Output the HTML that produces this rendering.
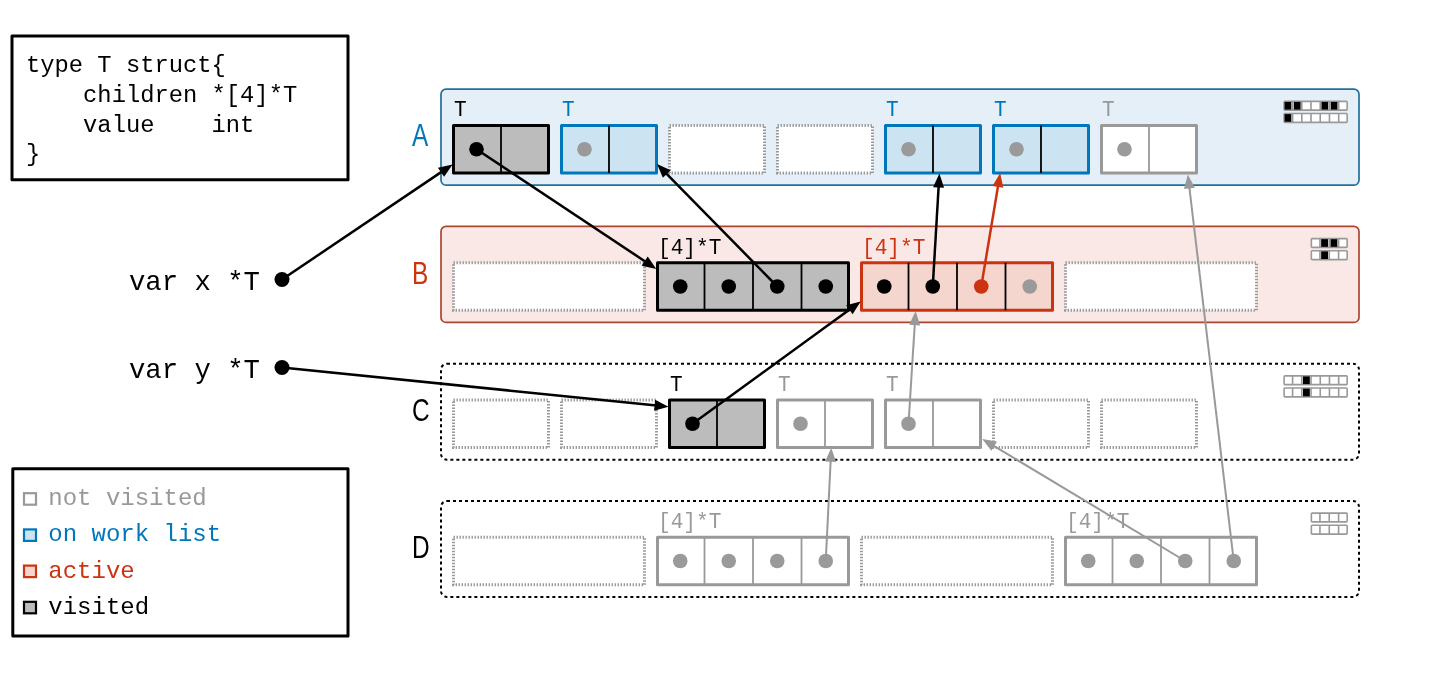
<!DOCTYPE html><html><head><meta charset="utf-8"><style>html,body{margin:0;padding:0;background:#fff;width:1440px;height:675px;overflow:hidden}svg{display:block;will-change:transform}</style></head><body><svg width="1440" height="675" viewBox="0 0 1440 675"><rect width="1440" height="675" fill="#ffffff"/><rect x="12" y="36" width="336" height="143.8" fill="#fff" stroke="#000" stroke-width="3" stroke-linejoin="round"/><text transform="translate(26 71.9) scale(0.9662 1)" x="0" y="0" font-family='"Liberation Mono", monospace' font-size="24.63" fill="#000" xml:space="preserve">type T struct{</text><text transform="translate(26 101.7) scale(0.9662 1)" x="0" y="0" font-family='"Liberation Mono", monospace' font-size="24.63" fill="#000" xml:space="preserve">    children *[4]*T</text><text transform="translate(26 131.5) scale(0.9662 1)" x="0" y="0" font-family='"Liberation Mono", monospace' font-size="24.63" fill="#000" xml:space="preserve">    value    int</text><text transform="translate(26 161.3) scale(0.9662 1)" x="0" y="0" font-family='"Liberation Mono", monospace' font-size="24.63" fill="#000" xml:space="preserve">}</text><rect x="12.8" y="468.7" width="335.2" height="167.2" fill="#fff" stroke="#000" stroke-width="3" stroke-linejoin="round"/><rect x="24" y="493.2" width="12" height="11.5" fill="#fff" stroke="#999999" stroke-width="2.2"/><text x="48.3" y="505.2" font-family='"Liberation Mono", monospace' font-size="24" fill="#999999">not visited</text><rect x="24" y="529.4" width="12" height="11.5" fill="#cce4f1" stroke="#0077bb" stroke-width="2.2"/><text x="48.3" y="541.4" font-family='"Liberation Mono", monospace' font-size="24" fill="#0077bb">on work list</text><rect x="24" y="565.6" width="12" height="11.5" fill="#f5d6cf" stroke="#cc3311" stroke-width="2.2"/><text x="48.3" y="577.6" font-family='"Liberation Mono", monospace' font-size="24" fill="#cc3311">active</text><rect x="24" y="601.8" width="12" height="11.5" fill="#bcbcbc" stroke="#000" stroke-width="2.2"/><text x="48.3" y="613.8" font-family='"Liberation Mono", monospace' font-size="24" fill="#000">visited</text><text transform="translate(129 290) scale(0.9569 1)" x="0" y="0" font-family='"Liberation Mono", monospace' font-size="28.53" fill="#000" xml:space="preserve">var x *T</text><text transform="translate(129 377.5) scale(0.9569 1)" x="0" y="0" font-family='"Liberation Mono", monospace' font-size="28.53" fill="#000" xml:space="preserve">var y *T</text><rect x="441" y="89.2" width="918" height="96" rx="5" fill="#e4eff8" stroke="#236f9c" stroke-width="1.7"/><rect x="441" y="226.45" width="918" height="96" rx="5" fill="#f9e8e5" stroke="#ad4630" stroke-width="1.7"/><rect x="441" y="363.7" width="918" height="96" rx="6" fill="#fff" stroke="#000" stroke-width="2" stroke-dasharray="3 3"/><rect x="441" y="500.95" width="918" height="96" rx="6" fill="#fff" stroke="#000" stroke-width="2" stroke-dasharray="3 3"/><text x="0" y="0" transform="translate(412 146.4) scale(0.8 1)" font-family='"Liberation Sans", sans-serif' font-size="30.5" fill="#0077bb">A</text><text x="0" y="0" transform="translate(412 283.65) scale(0.8 1)" font-family='"Liberation Sans", sans-serif' font-size="30.5" fill="#cc3311">B</text><text x="0" y="0" transform="translate(412 420.9) scale(0.8 1)" font-family='"Liberation Sans", sans-serif' font-size="30.5" fill="#000">C</text><text x="0" y="0" transform="translate(412 558.15) scale(0.8 1)" font-family='"Liberation Sans", sans-serif' font-size="30.5" fill="#000">D</text><rect x="453.5" y="125.5" width="95" height="47.5" fill="#bcbcbc" stroke="#000" stroke-width="3" stroke-linejoin="round"/><line x1="501.0" y1="125.5" x2="501.0" y2="173.0" stroke="#000" stroke-width="1.8"/><rect x="561.5" y="125.5" width="95" height="47.5" fill="#cce4f1" stroke="#0077bb" stroke-width="3" stroke-linejoin="round"/><line x1="609.0" y1="125.5" x2="609.0" y2="173.0" stroke="#000" stroke-width="1.8"/><rect x="669.5" y="125.5" width="95" height="47.5" fill="#ffffff" stroke="#9a9a9a" stroke-width="3" stroke-dasharray="1.4 1.6"/><rect x="777.5" y="125.5" width="95" height="47.5" fill="#ffffff" stroke="#9a9a9a" stroke-width="3" stroke-dasharray="1.4 1.6"/><rect x="885.5" y="125.5" width="95" height="47.5" fill="#cce4f1" stroke="#0077bb" stroke-width="3" stroke-linejoin="round"/><line x1="933.0" y1="125.5" x2="933.0" y2="173.0" stroke="#000" stroke-width="1.8"/><rect x="993.5" y="125.5" width="95" height="47.5" fill="#cce4f1" stroke="#0077bb" stroke-width="3" stroke-linejoin="round"/><line x1="1041.0" y1="125.5" x2="1041.0" y2="173.0" stroke="#000" stroke-width="1.8"/><rect x="1101.5" y="125.5" width="95" height="47.5" fill="#fff" stroke="#999999" stroke-width="3" stroke-linejoin="round"/><line x1="1149.0" y1="125.5" x2="1149.0" y2="173.0" stroke="#999999" stroke-width="1.8"/><text transform="translate(454 116.4) scale(0.9434 1)" x="0" y="0" font-family='"Liberation Mono", monospace' font-size="22.37" fill="#000" xml:space="preserve">T</text><text transform="translate(562 116.4) scale(0.9434 1)" x="0" y="0" font-family='"Liberation Mono", monospace' font-size="22.37" fill="#0077bb" xml:space="preserve">T</text><text transform="translate(886 116.4) scale(0.9434 1)" x="0" y="0" font-family='"Liberation Mono", monospace' font-size="22.37" fill="#0077bb" xml:space="preserve">T</text><text transform="translate(994 116.4) scale(0.9434 1)" x="0" y="0" font-family='"Liberation Mono", monospace' font-size="22.37" fill="#0077bb" xml:space="preserve">T</text><text transform="translate(1102 116.4) scale(0.9434 1)" x="0" y="0" font-family='"Liberation Mono", monospace' font-size="22.37" fill="#999999" xml:space="preserve">T</text><rect x="1284.1100000000001" y="101.35000000000001" width="63.040000000000006" height="8.8" fill="#ffffff" stroke="#999" stroke-width="1.6" rx="0.8"/><rect x="1284.5600000000002" y="101.9" width="6.82" height="7.700000000000001" fill="#000"/><rect x="1293.7800000000002" y="101.9" width="6.82" height="7.700000000000001" fill="#000"/><rect x="1321.4400000000003" y="101.9" width="6.82" height="7.700000000000001" fill="#000"/><rect x="1330.66" y="101.9" width="6.82" height="7.700000000000001" fill="#000"/><line x1="1292.5800000000002" y1="101.35000000000001" x2="1292.5800000000002" y2="110.15" stroke="#999" stroke-width="1.6"/><line x1="1301.8000000000002" y1="101.35000000000001" x2="1301.8000000000002" y2="110.15" stroke="#999" stroke-width="1.6"/><line x1="1311.0200000000002" y1="101.35000000000001" x2="1311.0200000000002" y2="110.15" stroke="#999" stroke-width="1.6"/><line x1="1320.2400000000002" y1="101.35000000000001" x2="1320.2400000000002" y2="110.15" stroke="#999" stroke-width="1.6"/><line x1="1329.46" y1="101.35000000000001" x2="1329.46" y2="110.15" stroke="#999" stroke-width="1.6"/><line x1="1338.68" y1="101.35000000000001" x2="1338.68" y2="110.15" stroke="#999" stroke-width="1.6"/><rect x="1284.1100000000001" y="113.55000000000001" width="63.040000000000006" height="8.8" fill="#ffffff" stroke="#999" stroke-width="1.6" rx="0.8"/><rect x="1284.5600000000002" y="114.10000000000001" width="6.82" height="7.700000000000001" fill="#000"/><line x1="1292.5800000000002" y1="113.55000000000001" x2="1292.5800000000002" y2="122.35000000000001" stroke="#999" stroke-width="1.6"/><line x1="1301.8000000000002" y1="113.55000000000001" x2="1301.8000000000002" y2="122.35000000000001" stroke="#999" stroke-width="1.6"/><line x1="1311.0200000000002" y1="113.55000000000001" x2="1311.0200000000002" y2="122.35000000000001" stroke="#999" stroke-width="1.6"/><line x1="1320.2400000000002" y1="113.55000000000001" x2="1320.2400000000002" y2="122.35000000000001" stroke="#999" stroke-width="1.6"/><line x1="1329.46" y1="113.55000000000001" x2="1329.46" y2="122.35000000000001" stroke="#999" stroke-width="1.6"/><line x1="1338.68" y1="113.55000000000001" x2="1338.68" y2="122.35000000000001" stroke="#999" stroke-width="1.6"/><rect x="453.5" y="262.75" width="191" height="47.5" fill="#ffffff" stroke="#9a9a9a" stroke-width="3" stroke-dasharray="1.4 1.6"/><rect x="657.5" y="262.75" width="191" height="47.5" fill="#bcbcbc" stroke="#000" stroke-width="3" stroke-linejoin="round"/><line x1="704.5" y1="262.75" x2="704.5" y2="310.25" stroke="#000" stroke-width="1.8"/><line x1="753.0" y1="262.75" x2="753.0" y2="310.25" stroke="#000" stroke-width="1.8"/><line x1="801.5" y1="262.75" x2="801.5" y2="310.25" stroke="#000" stroke-width="1.8"/><rect x="861.5" y="262.75" width="191" height="47.5" fill="#f5d6cf" stroke="#cc3311" stroke-width="3" stroke-linejoin="round"/><line x1="908.5" y1="262.75" x2="908.5" y2="310.25" stroke="#000" stroke-width="1.8"/><line x1="957.0" y1="262.75" x2="957.0" y2="310.25" stroke="#000" stroke-width="1.8"/><line x1="1005.5" y1="262.75" x2="1005.5" y2="310.25" stroke="#000" stroke-width="1.8"/><rect x="1065.5" y="262.75" width="191" height="47.5" fill="#ffffff" stroke="#9a9a9a" stroke-width="3" stroke-dasharray="1.4 1.6"/><text transform="translate(658 253.64999999999998) scale(0.9434 1)" x="0" y="0" font-family='"Liberation Mono", monospace' font-size="22.37" fill="#000" xml:space="preserve">[4]*T</text><text transform="translate(862 253.64999999999998) scale(0.9434 1)" x="0" y="0" font-family='"Liberation Mono", monospace' font-size="22.37" fill="#cc3311" xml:space="preserve">[4]*T</text><rect x="1311.3700000000001" y="238.6" width="35.78" height="8.8" fill="#ffffff" stroke="#999" stroke-width="1.6" rx="0.8"/><rect x="1321.14" y="239.15" width="6.92" height="7.700000000000001" fill="#000"/><rect x="1330.4600000000003" y="239.15" width="6.92" height="7.700000000000001" fill="#000"/><line x1="1319.94" y1="238.6" x2="1319.94" y2="247.4" stroke="#999" stroke-width="1.6"/><line x1="1329.2600000000002" y1="238.6" x2="1329.2600000000002" y2="247.4" stroke="#999" stroke-width="1.6"/><line x1="1338.5800000000002" y1="238.6" x2="1338.5800000000002" y2="247.4" stroke="#999" stroke-width="1.6"/><rect x="1311.3700000000001" y="250.79999999999998" width="35.78" height="8.8" fill="#ffffff" stroke="#999" stroke-width="1.6" rx="0.8"/><rect x="1321.14" y="251.35" width="6.92" height="7.700000000000001" fill="#000"/><line x1="1319.94" y1="250.79999999999998" x2="1319.94" y2="259.59999999999997" stroke="#999" stroke-width="1.6"/><line x1="1329.2600000000002" y1="250.79999999999998" x2="1329.2600000000002" y2="259.59999999999997" stroke="#999" stroke-width="1.6"/><line x1="1338.5800000000002" y1="250.79999999999998" x2="1338.5800000000002" y2="259.59999999999997" stroke="#999" stroke-width="1.6"/><rect x="453.5" y="400.0" width="95" height="47.5" fill="#ffffff" stroke="#9a9a9a" stroke-width="3" stroke-dasharray="1.4 1.6"/><rect x="561.5" y="400.0" width="95" height="47.5" fill="#ffffff" stroke="#9a9a9a" stroke-width="3" stroke-dasharray="1.4 1.6"/><rect x="669.5" y="400.0" width="95" height="47.5" fill="#bcbcbc" stroke="#000" stroke-width="3" stroke-linejoin="round"/><line x1="717.0" y1="400.0" x2="717.0" y2="447.5" stroke="#000" stroke-width="1.8"/><rect x="777.5" y="400.0" width="95" height="47.5" fill="#fff" stroke="#999999" stroke-width="3" stroke-linejoin="round"/><line x1="825.0" y1="400.0" x2="825.0" y2="447.5" stroke="#999999" stroke-width="1.8"/><rect x="885.5" y="400.0" width="95" height="47.5" fill="#fff" stroke="#999999" stroke-width="3" stroke-linejoin="round"/><line x1="933.0" y1="400.0" x2="933.0" y2="447.5" stroke="#999999" stroke-width="1.8"/><rect x="993.5" y="400.0" width="95" height="47.5" fill="#ffffff" stroke="#9a9a9a" stroke-width="3" stroke-dasharray="1.4 1.6"/><rect x="1101.5" y="400.0" width="95" height="47.5" fill="#ffffff" stroke="#9a9a9a" stroke-width="3" stroke-dasharray="1.4 1.6"/><text transform="translate(670 390.9) scale(0.9434 1)" x="0" y="0" font-family='"Liberation Mono", monospace' font-size="22.37" fill="#000" xml:space="preserve">T</text><text transform="translate(778 390.9) scale(0.9434 1)" x="0" y="0" font-family='"Liberation Mono", monospace' font-size="22.37" fill="#999999" xml:space="preserve">T</text><text transform="translate(886 390.9) scale(0.9434 1)" x="0" y="0" font-family='"Liberation Mono", monospace' font-size="22.37" fill="#999999" xml:space="preserve">T</text><rect x="1284.1100000000001" y="375.84999999999997" width="63.040000000000006" height="8.8" fill="#ffffff" stroke="#999" stroke-width="1.6" rx="0.8"/><rect x="1303.0000000000002" y="376.4" width="6.82" height="7.700000000000001" fill="#000"/><line x1="1292.5800000000002" y1="375.84999999999997" x2="1292.5800000000002" y2="384.65" stroke="#999" stroke-width="1.6"/><line x1="1301.8000000000002" y1="375.84999999999997" x2="1301.8000000000002" y2="384.65" stroke="#999" stroke-width="1.6"/><line x1="1311.0200000000002" y1="375.84999999999997" x2="1311.0200000000002" y2="384.65" stroke="#999" stroke-width="1.6"/><line x1="1320.2400000000002" y1="375.84999999999997" x2="1320.2400000000002" y2="384.65" stroke="#999" stroke-width="1.6"/><line x1="1329.46" y1="375.84999999999997" x2="1329.46" y2="384.65" stroke="#999" stroke-width="1.6"/><line x1="1338.68" y1="375.84999999999997" x2="1338.68" y2="384.65" stroke="#999" stroke-width="1.6"/><rect x="1284.1100000000001" y="388.04999999999995" width="63.040000000000006" height="8.8" fill="#ffffff" stroke="#999" stroke-width="1.6" rx="0.8"/><rect x="1303.0000000000002" y="388.59999999999997" width="6.82" height="7.700000000000001" fill="#000"/><line x1="1292.5800000000002" y1="388.04999999999995" x2="1292.5800000000002" y2="396.84999999999997" stroke="#999" stroke-width="1.6"/><line x1="1301.8000000000002" y1="388.04999999999995" x2="1301.8000000000002" y2="396.84999999999997" stroke="#999" stroke-width="1.6"/><line x1="1311.0200000000002" y1="388.04999999999995" x2="1311.0200000000002" y2="396.84999999999997" stroke="#999" stroke-width="1.6"/><line x1="1320.2400000000002" y1="388.04999999999995" x2="1320.2400000000002" y2="396.84999999999997" stroke="#999" stroke-width="1.6"/><line x1="1329.46" y1="388.04999999999995" x2="1329.46" y2="396.84999999999997" stroke="#999" stroke-width="1.6"/><line x1="1338.68" y1="388.04999999999995" x2="1338.68" y2="396.84999999999997" stroke="#999" stroke-width="1.6"/><rect x="453.5" y="537.25" width="191" height="47.5" fill="#ffffff" stroke="#9a9a9a" stroke-width="3" stroke-dasharray="1.4 1.6"/><rect x="657.5" y="537.25" width="191" height="47.5" fill="#fff" stroke="#999999" stroke-width="3" stroke-linejoin="round"/><line x1="704.5" y1="537.25" x2="704.5" y2="584.75" stroke="#999999" stroke-width="1.8"/><line x1="753.0" y1="537.25" x2="753.0" y2="584.75" stroke="#999999" stroke-width="1.8"/><line x1="801.5" y1="537.25" x2="801.5" y2="584.75" stroke="#999999" stroke-width="1.8"/><rect x="861.5" y="537.25" width="191" height="47.5" fill="#ffffff" stroke="#9a9a9a" stroke-width="3" stroke-dasharray="1.4 1.6"/><rect x="1065.5" y="537.25" width="191" height="47.5" fill="#fff" stroke="#999999" stroke-width="3" stroke-linejoin="round"/><line x1="1112.5" y1="537.25" x2="1112.5" y2="584.75" stroke="#999999" stroke-width="1.8"/><line x1="1161.0" y1="537.25" x2="1161.0" y2="584.75" stroke="#999999" stroke-width="1.8"/><line x1="1209.5" y1="537.25" x2="1209.5" y2="584.75" stroke="#999999" stroke-width="1.8"/><text transform="translate(658 528.15) scale(0.9434 1)" x="0" y="0" font-family='"Liberation Mono", monospace' font-size="22.37" fill="#999999" xml:space="preserve">[4]*T</text><text transform="translate(1066 528.15) scale(0.9434 1)" x="0" y="0" font-family='"Liberation Mono", monospace' font-size="22.37" fill="#999999" xml:space="preserve">[4]*T</text><rect x="1311.3700000000001" y="513.1" width="35.78" height="8.8" fill="#ffffff" stroke="#999" stroke-width="1.6" rx="0.8"/><line x1="1319.94" y1="513.1" x2="1319.94" y2="521.9" stroke="#999" stroke-width="1.6"/><line x1="1329.2600000000002" y1="513.1" x2="1329.2600000000002" y2="521.9" stroke="#999" stroke-width="1.6"/><line x1="1338.5800000000002" y1="513.1" x2="1338.5800000000002" y2="521.9" stroke="#999" stroke-width="1.6"/><rect x="1311.3700000000001" y="525.3000000000001" width="35.78" height="8.8" fill="#ffffff" stroke="#999" stroke-width="1.6" rx="0.8"/><line x1="1319.94" y1="525.3000000000001" x2="1319.94" y2="534.1" stroke="#999" stroke-width="1.6"/><line x1="1329.2600000000002" y1="525.3000000000001" x2="1329.2600000000002" y2="534.1" stroke="#999" stroke-width="1.6"/><line x1="1338.5800000000002" y1="525.3000000000001" x2="1338.5800000000002" y2="534.1" stroke="#999" stroke-width="1.6"/><circle cx="476.50" cy="149.25" r="7.3" fill="#000"/><circle cx="584.50" cy="149.25" r="7.3" fill="#9a9a9a"/><circle cx="908.50" cy="149.25" r="7.3" fill="#9a9a9a"/><circle cx="1016.50" cy="149.25" r="7.3" fill="#9a9a9a"/><circle cx="1124.50" cy="149.25" r="7.3" fill="#9a9a9a"/><circle cx="680.25" cy="286.50" r="7.3" fill="#000"/><circle cx="728.75" cy="286.50" r="7.3" fill="#000"/><circle cx="777.25" cy="286.50" r="7.3" fill="#000"/><circle cx="825.75" cy="286.50" r="7.3" fill="#000"/><circle cx="884.25" cy="286.50" r="7.3" fill="#000"/><circle cx="932.75" cy="286.50" r="7.3" fill="#000"/><circle cx="981.25" cy="286.50" r="7.3" fill="#cc3311"/><circle cx="1029.75" cy="286.50" r="7.3" fill="#9a9a9a"/><circle cx="692.50" cy="423.75" r="7.3" fill="#000"/><circle cx="800.50" cy="423.75" r="7.3" fill="#9a9a9a"/><circle cx="908.50" cy="423.75" r="7.3" fill="#9a9a9a"/><circle cx="680.25" cy="561.00" r="7.3" fill="#9a9a9a"/><circle cx="728.75" cy="561.00" r="7.3" fill="#9a9a9a"/><circle cx="777.25" cy="561.00" r="7.3" fill="#9a9a9a"/><circle cx="825.75" cy="561.00" r="7.3" fill="#9a9a9a"/><circle cx="1088.25" cy="561.00" r="7.3" fill="#9a9a9a"/><circle cx="1136.75" cy="561.00" r="7.3" fill="#9a9a9a"/><circle cx="1185.25" cy="561.00" r="7.3" fill="#9a9a9a"/><circle cx="1233.75" cy="561.00" r="7.3" fill="#9a9a9a"/><circle cx="282.00" cy="279.50" r="7.5" fill="#000"/><circle cx="282.00" cy="367.50" r="7.5" fill="#000"/><line x1="282.00" y1="279.50" x2="442.65" y2="171.11" stroke="#000" stroke-width="2.5"/><polygon points="452.60,164.40 444.07,176.79 437.92,167.67" fill="#000"/><line x1="476.50" y1="149.25" x2="646.31" y2="262.25" stroke="#000" stroke-width="2.5"/><polygon points="656.30,268.90 641.60,265.72 647.69,256.57" fill="#000"/><line x1="777.25" y1="286.50" x2="665.41" y2="172.56" stroke="#000" stroke-width="2.5"/><polygon points="657.00,164.00 670.73,170.14 662.88,177.84" fill="#000"/><line x1="932.75" y1="286.50" x2="938.70" y2="185.48" stroke="#000" stroke-width="2.5"/><polygon points="939.40,173.50 944.07,187.80 933.09,187.15" fill="#000"/><line x1="981.25" y1="286.50" x2="998.22" y2="184.94" stroke="#cc3311" stroke-width="2.5"/><polygon points="1000.20,173.10 1003.32,187.82 992.47,186.00" fill="#cc3311"/><line x1="282.00" y1="367.50" x2="656.56" y2="405.49" stroke="#000" stroke-width="2.5"/><polygon points="668.50,406.70 654.02,410.76 655.13,399.82" fill="#000"/><line x1="692.50" y1="423.75" x2="850.99" y2="308.56" stroke="#000" stroke-width="2.5"/><polygon points="860.70,301.50 852.61,314.18 846.14,305.28" fill="#000"/><line x1="908.50" y1="423.75" x2="914.85" y2="323.08" stroke="#999999" stroke-width="2"/><polygon points="915.60,311.10 920.21,325.42 909.23,324.73" fill="#999999"/><line x1="825.75" y1="561.00" x2="830.71" y2="459.79" stroke="#999999" stroke-width="2"/><polygon points="831.30,447.80 836.11,462.05 825.12,461.51" fill="#999999"/><line x1="1185.25" y1="561.00" x2="992.48" y2="445.08" stroke="#999999" stroke-width="2"/><polygon points="982.20,438.90 997.03,441.40 991.36,450.83" fill="#999999"/><line x1="1233.75" y1="561.00" x2="1189.22" y2="186.32" stroke="#999999" stroke-width="2"/><polygon points="1187.80,174.40 1194.91,187.65 1183.99,188.95" fill="#999999"/></svg></body></html>
